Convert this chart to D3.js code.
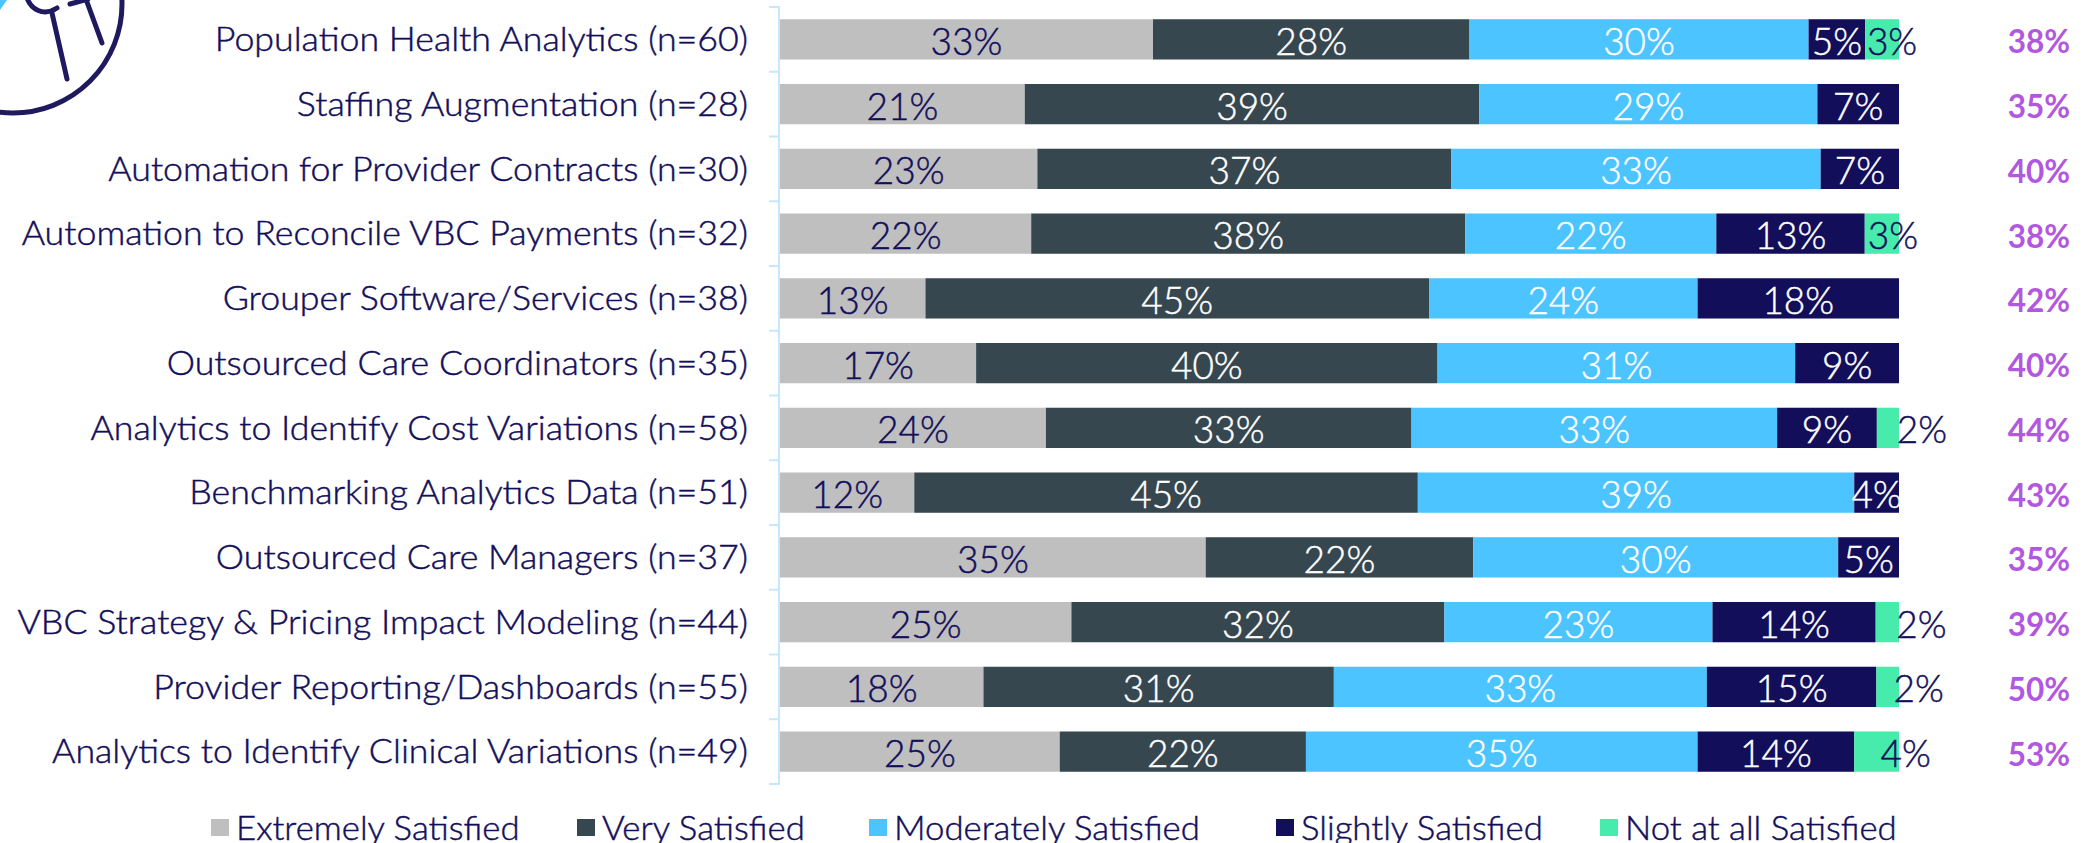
<!DOCTYPE html>
<html><head><meta charset="utf-8">
<script src="https://cdn.jsdelivr.net/npm/d3@7"></script>
<style>
html,body{margin:0;padding:0;background:#fff;overflow:hidden}
text{font-family:Lato,"Open Sans",sans-serif}
.thin{stroke-width:0.45px;paint-order:stroke}
</style></head><body>
<svg id="c" width="2092" height="843"></svg>
<script>
const categories = ["Population Health Analytics (n=60)","Staffing Augmentation (n=28)","Automation for Provider Contracts (n=30)","Automation to Reconcile VBC Payments (n=32)","Grouper Software/Services (n=38)","Outsourced Care Coordinators (n=35)","Analytics to Identify Cost Variations (n=58)","Benchmarking Analytics Data (n=51)","Outsourced Care Managers (n=37)","VBC Strategy & Pricing Impact Modeling (n=44)","Provider Reporting/Dashboards (n=55)","Analytics to Identify Clinical Variations (n=49)"];
const seriesNames = ["Extremely Satisfied","Very Satisfied","Moderately Satisfied","Slightly Satisfied","Not at all Satisfied"];
const extremely = [33,21,23,22,13,17,24,12,35,25,18,25];
const very = [28,39,37,38,45,40,33,45,22,32,31,22];
const moderately = [30,29,33,22,24,31,33,39,30,23,33,35];
const slightly = [5,7,7,13,18,9,9,4,5,14,15,14];
const notAtAll = [3,0,0,3,0,0,2,0,0,2,2,4];
const sideValues = [38,35,40,38,42,40,44,43,35,39,50,53];
const seriesValues = [extremely,very,moderately,slightly,notAtAll];
const colors = ["#BFBFBF","#37474F","#4BC4FF","#120E5A","#47EBAB"];
const labelColors = ["#120E5A","#fff","#fff","#fff","#120E5A"];

const svg = d3.select("#c");
const L=780, R=1899, T=7, B=784;
const x = d3.scaleLinear().domain([0,1]).range([L,R]);
const y = d3.scaleBand().domain(categories).range([T,B]).paddingInner(0.378).paddingOuter(0.189);

const rows = categories.map((c,i)=>{const o={cat:c};seriesNames.forEach((s,j)=>o[s]=seriesValues[j][i]);return o;});
const stacked = d3.stack().keys(seriesNames).offset(d3.stackOffsetExpand)(rows);

// logo fragment, cut off by the top-left corner
svg.append("path").attr("d","M0,0 L7,0 L0,10 Z").attr("fill","#4BC4FF");
const logo = svg.append("g").attr("fill","none").attr("stroke","#1F1A60").attr("stroke-width",5).attr("stroke-linecap","round");
logo.append("circle").attr("cx",13).attr("cy",4).attr("r",109);
logo.append("path").attr("d","M52,13 L67,79");
logo.append("path").attr("d","M87,2 L102,43");
logo.append("path").attr("d","M27,-2 C31,9 43,17 57,8");
logo.append("path").attr("d","M70,4 L88,-1");

// axis
const axisG = svg.append("g").attr("transform",`translate(${L-1},0)`);
const step = y.step();
axisG.append("line").attr("x1",0).attr("x2",0).attr("y1",T-1).attr("y2",B+1);
d3.range(categories.length+1).forEach(i=>{
  axisG.append("line").attr("x1",-10).attr("x2",0).attr("y1",T+i*step).attr("y2",T+i*step);
});
axisG.selectAll("line").attr("stroke","#C5E8FF").attr("stroke-width",2);

// category labels
svg.append("g").selectAll("text").data(categories).join("text")
  .attr("class","thin").attr("stroke","#120E5A")
  .attr("transform",d=>`translate(748,${y(d)+y.bandwidth()/2-1}) scale(1.1,1)`)
  .attr("text-anchor","end").attr("dominant-baseline","central")
  .attr("font-size",32.5).attr("font-weight",300).attr("fill","#120E5A").text(d=>d);

// bars
const gs = svg.append("g").selectAll("g").data(stacked).join("g").attr("fill",(d,i)=>colors[i]);
gs.selectAll("rect").data(d=>d.map(p=>({p,cat:p.data.cat}))).join("rect")
  .attr("x",d=>x(d.p[0])).attr("width",d=>x(d.p[1])-x(d.p[0]))
  .attr("y",d=>y(d.cat)).attr("height",y.bandwidth());

// data labels
const outsideNudge = {0:10,3:11,6:34,9:34,10:31,11:29};
stacked.forEach((s,j)=>{
  svg.append("g").selectAll("text").data(s.filter(p=>p.data[s.key]>0)).join("text")
    .attr("class","thin").attr("stroke",labelColors[j])
    .attr("x",p=>{const i=categories.indexOf(p.data.cat);return (x(p[0])+x(p[1]))/2+(j===4?outsideNudge[i]:0);})
    .attr("y",p=>y(p.data.cat)+y.bandwidth()/2+1).attr("text-anchor","middle").attr("dominant-baseline","central")
    .attr("font-size",37).attr("font-weight",300).attr("fill",labelColors[j]).text(p=>p.data[s.key]+"%");
});

// side totals
svg.append("g").selectAll("text").data(sideValues).join("text")
  .attr("x",2039).attr("y",(d,i)=>y(categories[i])+y.bandwidth()/2+2).attr("text-anchor","middle").attr("dominant-baseline","central")
  .attr("font-size",31.5).attr("font-weight",700).attr("fill","#B157E0").text(d=>d+"%");

// legend
const legendX = [211,577,869,1276,1600];
const lg = svg.append("g").selectAll("g").data(seriesNames).join("g")
  .attr("transform",(d,i)=>`translate(${legendX[i]},827)`);
lg.append("rect").attr("y",-8).attr("width",18).attr("height",17).attr("fill",(d,i)=>colors[i]);
lg.append("text").attr("class","thin").attr("stroke","#120E5A")
  .attr("transform","translate(25,0) scale(1.07,1)").attr("dominant-baseline","central")
  .attr("font-size",32.5).attr("font-weight",300).attr("fill","#120E5A").text(d=>d);
</script>
</body></html>
